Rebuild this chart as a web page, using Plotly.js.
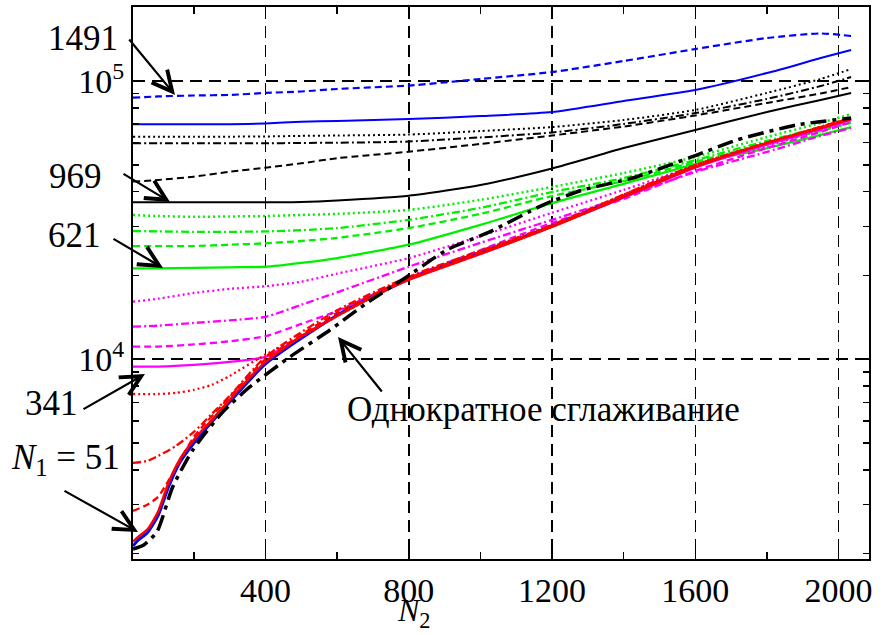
<!DOCTYPE html>
<html><head><meta charset="utf-8">
<script src="https://cdn.plot.ly/plotly-3.0.1.min.js"></script>
<style>html,body{margin:0;padding:0;background:#fff}#chart{width:893px;height:635px}</style>
</head><body><div id="chart"></div>
<script>
// Common N2 grid for the upper families
const N2 = [30, 100, 200, 300, 400, 500, 600, 800, 1000, 1200, 1400, 1600, 1800, 1950, 2035];

// Blue family (N1 = 1491 dashed, solid)
const blueDashed = [87100, 88000, 88700, 89100, 90600, 91700, 93600, 96300, 101700, 107700, 118000, 130300, 142700, 148200, 145100];
const blueSolid  = [69900, 69900, 69900, 69900, 70400, 71400, 71800, 73000, 74800, 77400, 84800, 92800, 106800, 120900, 129200];

// Black family (N1 = 969)
const blackDotted  = [63100, 63100, 63100, 63100, 63200, 63500, 63700, 64200, 66100, 68300, 72400, 78700, 90600, 101700, 110400];
const blackDashDot = [59700, 59700, 59700, 59700, 59700, 59900, 60000, 60600, 62700, 65300, 70100, 76700, 86200, 95900, 103400];
const blackDashed  = [43500, 44100, 45300, 47200, 48800, 50600, 52800, 55700, 59400, 63700, 68600, 75200, 83400, 90200, 95100];
const blackSolid   = [36650, 36650, 36650, 36650, 36650, 36750, 37200, 38700, 42300, 48500, 57400, 66700, 77400, 85500, 90600];

// Green family (N1 = 621)
const greenDotted  = [33000, 32700, 32500, 32600, 32700, 33000, 33300, 34400, 37400, 41600, 46700, 53300, 62900, 70700, 76100];
const greenDashDot = [28900, 28800, 28700, 28700, 28800, 29100, 29600, 31700, 35000, 39900, 44800, 52000, 60900, 68300, 73600];
const greenDashed  = [25500, 25500, 25500, 25800, 26100, 26600, 27300, 29600, 33300, 38600, 43700, 51200, 59400, 66100, 70700];
const greenSolid   = [21200, 21200, 21300, 21400, 21500, 22200, 23100, 25800, 30400, 36400, 42700, 50300, 57400, 64000, 68300];

// Magenta family (N1 = 341)
const magDotted  = [16100, 16500, 17300, 17900, 18300, 19000, 20300, 23100, 27700, 33600, 40600, 49500, 58400, 66700, 71800];
const magDashDot = [13100, 13200, 13500, 13800, 14200, 15700, 17400, 21500, 26200, 31700, 38300, 47100, 55600, 63500, 67800];
const magDashed  = [11100, 11100, 11300, 11600, 12100, 13400, 14900, 19600, 24700, 30900, 37700, 47500, 57400, 65600, 71200];
const magSolid   = [9410, 9410, 9540, 9780, 10190, 12100, 14400, 19400, 23900, 30000, 38100, 48800, 59000, 67000, 72600];

// Red family (N1 = 51 ...)
const redSolidX = [30, 45, 70, 100, 130, 160, 200, 250, 300, 350, 400, 500, 600, 700, 800, 1000, 1200, 1400, 1600, 1800, 1950, 2035];
const redSolid  = [2210, 2300, 2440, 2830, 3620, 4350, 5130, 6050, 7140, 8430, 9780, 12100, 14300, 16800, 19300, 23900, 29900, 38300, 49100, 59900, 67800, 73000];
const redDashedX = [30, 70, 100, 130, 160, 200, 300, 400, 600, 800, 1200, 1600, 2035];
const redDashed  = [2850, 3000, 3200, 3680, 4280, 5260, 7320, 10000, 14700, 19600, 30100, 49500, 73600];
const redDashDotX = [30, 70, 100, 150, 200, 250, 300, 400, 600, 800, 1200, 1600, 2035];
const redDashDot  = [4240, 4310, 4490, 4880, 5480, 6360, 7380, 10200, 15000, 19800, 30400, 49900, 73600];
const redDottedX = [30, 100, 150, 200, 250, 300, 400, 500, 600, 800, 1200, 1600, 2035];
const redDotted  = [7500, 7500, 7570, 7760, 8090, 8710, 10400, 12000, 14300, 19400, 30400, 49900, 73600];

// Thin blue line under the red one
const blueThinX = [30, 45, 70, 100, 130, 160, 200, 300, 400, 600, 800, 1200, 1600];
const blueThin  = [2130, 2240, 2380, 2740, 3500, 4240, 5000, 7020, 9620, 14400, 19400, 30100, 49500];

// Single smoothing (Однократное сглаживание)
const singleX = [30, 60, 97, 141, 197, 281, 356, 468, 580, 683, 794, 906, 1026, 1174, 1286, 1425, 1604, 1716, 1883, 2035];
const single  = [2080, 2150, 2400, 3480, 4720, 6470, 7950, 10190, 12740, 15930, 19760, 24700, 28700, 35800, 40600, 44800, 54200, 61400, 69500, 73600];

// Axis ticks
const xTicks = [400, 800, 1200, 1600, 2000];
const xMinor = [200, 600, 1000, 1400, 1800];
const yTicks = [1e4, 1e5];
const yTickText = ['10<sup>4</sup>', '10<sup>5</sup>'];
const yMinor = [2000, 3000, 4000, 5000, 6000, 7000, 8000, 9000, 20000, 30000, 40000, 50000, 60000, 70000, 80000, 90000, 200000];

const DOT = '2px,3px', DASH = '7px,4px', DASHDOT = '8px,3px,2px,3px';
const BLUE = '#0000ff', GREEN = '#00f000', MAG = '#ff00ff', RED = '#ff0000', BLK = '#000000';

function tr(x, y, color, dash, width) {
  return {x: x, y: y, type: 'scatter', mode: 'lines', showlegend: false, hoverinfo: 'skip',
          line: {color: color, dash: dash, width: width || 2, shape: 'spline', smoothing: 0.6}};
}

const data = [
  tr(N2, blueDashed, BLUE, DASH, 2.2),
  tr(N2, blueSolid, BLUE, 'solid', 2),
  tr(N2, blackDotted, BLK, DOT, 2),
  tr(N2, blackDashDot, BLK, DASHDOT, 2),
  tr(N2, blackDashed, BLK, DASH, 2),
  tr(N2, blackSolid, BLK, 'solid', 2),
  tr(N2, greenDotted, GREEN, DOT, 2.5),
  tr(N2, greenDashDot, GREEN, DASHDOT, 2.3),
  tr(N2, greenDashed, GREEN, DASH, 2.3),
  tr(N2, greenSolid, GREEN, 'solid', 2.3),
  tr(N2, magDotted, MAG, DOT, 2.3),
  tr(N2, magDashDot, MAG, DASHDOT, 2.3),
  tr(N2, magDashed, MAG, DASH, 2.3),
  tr(N2, magSolid, MAG, 'solid', 2.3),
  tr(blueThinX, blueThin, BLUE, 'solid', 3),
  tr(redDottedX, redDotted, RED, DOT, 2.3),
  tr(redDashDotX, redDashDot, RED, DASHDOT, 2.3),
  tr(redDashedX, redDashed, RED, DASH, 2.3),
  tr(redSolidX, redSolid, RED, 'solid', 2.5),
  tr(singleX, single, BLK, '16px,6px,4px,6px', 3.5)
];

const FONT = 'Liberation Serif';
const L = 133, R = 869, T = 7, B = 559;
function px(x) { return (x - L) / (R - L); }
function py(y) { return (B - y) / (B - T); }

function label(text, x, y, size) {
  return {xref: 'paper', yref: 'paper', x: px(x), y: py(y), text: text, showarrow: false,
          xanchor: 'center', yanchor: 'middle', font: {family: FONT, size: size, color: '#000'}};
}
function arrow(hx, hy, tx, ty) {
  return {xref: 'paper', yref: 'paper', x: px(hx), y: py(hy), ax: tx - hx, ay: ty - hy,
          text: '', showarrow: true, arrowhead: 5, arrowsize: 1.8, arrowwidth: 2.2, arrowcolor: '#000'};
}

const annotations = [
  label('1491', 83, 38, 35),
  label('969', 75, 176, 35),
  label('621', 74, 236, 35),
  label('341', 51, 403, 35),
  label('<i>N</i><sub>1</sub> = 51', 65, 459, 35),
  label('Однократное сглаживание', 543, 409, 35),
  label('<i>N</i><sub>2</sub>', 414, 612, 32),
  arrow(175, 95, 128, 38),
  arrow(170, 202, 122, 173),
  arrow(163, 268, 112, 238),
  arrow(145, 374, 82, 410),
  arrow(138, 532, 63, 490),
  arrow(338, 337, 383, 393)
];

const axisCommon = {
  showline: true, linecolor: '#000', linewidth: 2, mirror: 'ticks',
  ticks: 'inside', ticklen: 12, tickwidth: 1.5, tickcolor: '#000',
  showgrid: true, gridcolor: '#000', gridwidth: 1.5, griddash: '12px,7px',
  zeroline: false, tickfont: {family: FONT, size: 34, color: '#000'}
};

const layout = {
  width: 893, height: 635,
  margin: {l: L, r: 893 - R, t: T, b: 635 - B, pad: 0},
  paper_bgcolor: '#fff', plot_bgcolor: '#fff',
  font: {family: FONT, color: '#000'},
  xaxis: Object.assign({}, axisCommon, {
    type: 'linear', range: [30, 2085], tickmode: 'array', tickvals: xTicks,
    minor: {tickmode: 'array', tickvals: xMinor, ticks: 'inside', ticklen: 7, tickwidth: 1.5, tickcolor: '#000', showgrid: false}
  }),
  yaxis: Object.assign({}, axisCommon, {
    type: 'log', range: [3.282, 5.266], tickmode: 'array', tickvals: yTicks, ticktext: yTickText,
    minor: {tickmode: 'array', tickvals: yMinor, ticks: 'inside', ticklen: 6, tickwidth: 1.5, tickcolor: '#000', showgrid: false}
  }),
  annotations: annotations
};

Plotly.newPlot('chart', data, layout, {displayModeBar: false, staticPlot: true});
</script></body></html>
